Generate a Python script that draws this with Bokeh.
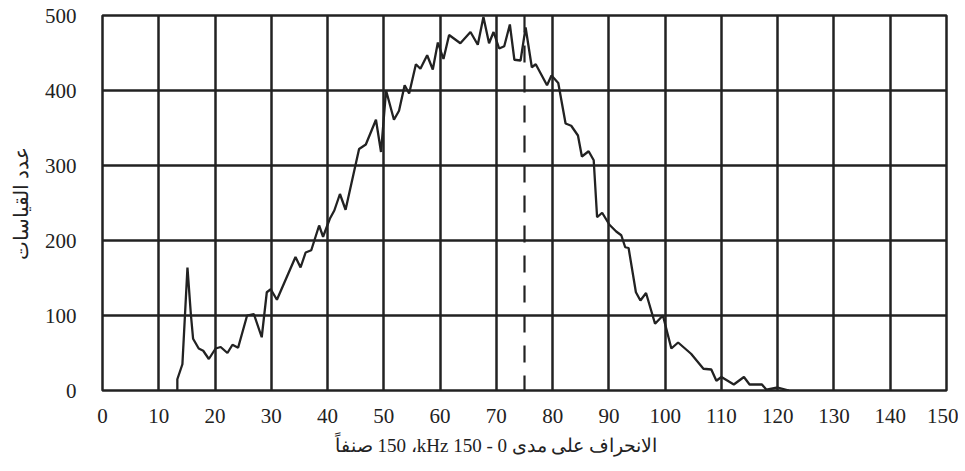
from bokeh.plotting import figure
from bokeh.models import Span, FixedTicker, ColumnDataSource
from bokeh.embed import file_html
from bokeh.resources import INLINE

# Deviation (kHz) and number of measurements
deviation_khz = [13.3, 13.3, 14.2, 15.1, 15.7, 16.1, 17.1, 17.9, 18.9, 20.1, 21.0, 22.2, 23.1, 24.1,
                 25.7, 26.9, 28.3, 29.2, 29.9, 31.0, 34.3, 35.2, 36.1, 37.1, 38.5, 39.2, 40.4, 41.2,
                 42.2, 43.2, 45.6, 46.8, 48.6, 49.5, 50.4, 51.8, 52.7, 53.7, 54.5, 55.7, 56.5, 57.7,
                 58.7, 59.6, 60.6, 61.6, 63.6, 65.4, 66.7, 67.7, 68.7, 69.5, 70.5, 71.4, 72.4, 73.2,
                 74.3, 75.2, 76.3, 77.0, 79.0, 79.8, 81.0, 82.3, 83.3, 84.5, 85.2, 86.4, 87.3, 87.9,
                 88.8, 90.1, 91.3, 92.2, 92.9, 93.5, 94.8, 95.6, 96.6, 98.2, 99.6, 101.1, 102.3,
                 104.6, 106.8, 108.2, 109.1, 110.0, 112.2, 114.0, 115.0, 117.2, 118.0, 120.0, 122.0]
counts = [0, 15, 35, 164, 102, 69, 56, 53, 42, 56, 58, 50, 61, 57,
          100, 102, 71, 131, 135, 121, 178, 164, 184, 187, 220, 205, 229, 240,
          262, 241, 322, 328, 361, 318, 400, 361, 373, 407, 396, 435, 429, 447,
          428, 464, 442, 474, 463, 478, 461, 498, 463, 478, 456, 459, 488, 441,
          440, 484, 431, 435, 407, 420, 410, 356, 353, 340, 312, 319, 307, 231,
          237, 221, 212, 207, 191, 190, 131, 120, 130, 89, 100, 56, 64,
          49, 29, 28, 13, 18, 8, 18, 8, 8, 1, 4, 0]

x_ticks = list(range(0, 151, 10))
y_ticks = list(range(0, 501, 100))
reference_khz = 75

x_title = "\u202b\u2003\u2003\u2003الانحراف على مدى 0 - 150 kHz،\u200f 150 صنفاً\u202c"
y_title = "عدد القياسات"

ink = "#222222"
font = "'Liberation Serif', 'Times New Roman', serif"

p = figure(width=958, height=462, x_range=(0, 150), y_range=(0, 500),
           output_backend="svg", toolbar_location=None,
           min_border_left=102, min_border_top=15, min_border_right=12, min_border_bottom=72)

src = ColumnDataSource(dict(x=deviation_khz, y=counts))
p.line("x", "y", source=src, line_color=ink, line_width=2.3)

p.add_layout(Span(location=reference_khz, dimension="height", line_color=ink,
                  line_width=2.2, line_dash="17 13"))

p.xaxis.ticker = FixedTicker(ticks=x_ticks)
p.yaxis.ticker = FixedTicker(ticks=y_ticks)
for ax in (p.xaxis, p.yaxis):
    ax.axis_line_color = None
    ax.major_tick_line_color = None
    ax.minor_tick_line_color = None
    ax.major_label_text_font = font
    ax.major_label_text_font_size = "21px"
    ax.major_label_text_color = ink
    ax.axis_label_text_font = font
    ax.axis_label_text_font_style = "normal"
    ax.axis_label_text_color = ink

p.xaxis.axis_label_text_font_size = "19px"
p.yaxis.axis_label_text_font_size = "20px"
p.xaxis.axis_label = x_title
p.yaxis.axis_label = y_title
p.xaxis.major_label_standoff = 12
p.yaxis.major_label_standoff = 20
p.xaxis.axis_label_standoff = 9
p.yaxis.axis_label_standoff = 10

p.xgrid.grid_line_color = ink
p.ygrid.grid_line_color = ink
p.xgrid.grid_line_width = 2.5
p.ygrid.grid_line_width = 2.5
p.xgrid.grid_line_alpha = 1
p.ygrid.grid_line_alpha = 1

p.outline_line_color = ink
p.outline_line_width = 2.5
p.outline_line_alpha = 1
p.background_fill_color = "white"
p.border_fill_color = "white"

open("out.html", "w").write(file_html(p, INLINE))
